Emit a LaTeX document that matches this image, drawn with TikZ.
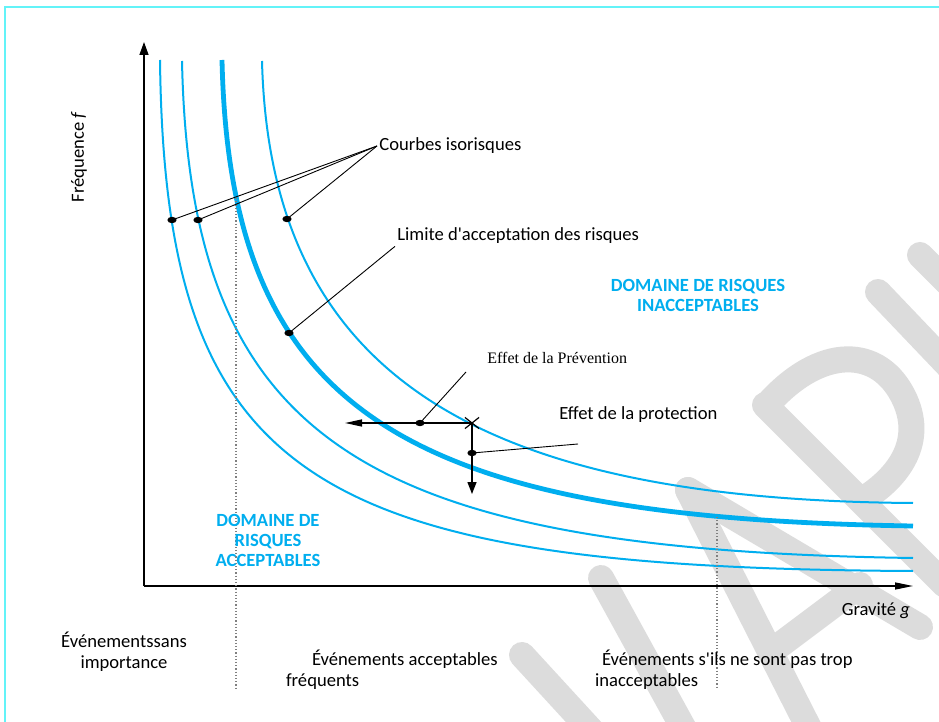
\documentclass[tikz,border=0pt]{standalone}
\usepackage{fontspec}
\setmainfont{Carlito}
\newfontfamily\timesfont{Liberation Serif}
\usetikzlibrary{arrows.meta,shapes.geometric,shapes.misc}
\definecolor{isoC}{HTML}{00AEEF}
\definecolor{frameC}{HTML}{63F3F8}
\definecolor{wmG}{HTML}{DCDCDC}

\begin{document}
\begin{tikzpicture}[x=0.5pt,y=-0.5pt,
    font=\fontsize{9.3}{10.3}\selectfont,
    iso/.style={isoC,line width=1pt},
    limite/.style={isoC,line width=2.4pt},
    axe/.style={line width=0.7pt},
    repere/.style={gray,densely dotted,line width=0.6pt},
    pt/.style={ellipse,fill=black,minimum width=4.6pt,minimum height=3.2pt,inner sep=0pt},
    lead/.style={line width=0.45pt},
    dom/.style={isoC,font=\fontsize{9.3}{10}\selectfont\bfseries,align=center},
    lbl/.style={inner sep=1pt,anchor=west},
    wm/.style={wmG,line width=13pt,line cap=round},
]
\fill[white] (0,0) rectangle (939,722);
\useasboundingbox (0,0) rectangle (939,722);

% watermark strokes in the background
\begin{scope}
\clip (0,0) rectangle (939,722);
\draw[wm] (522,655) -- (600,740);
\draw[wm] (601,578) -- (690,740);
\draw[wm] (688,490) -- (815,740);
\draw[wm] (688,490) -- (920,627);
\draw[wm] (780,645) -- (860,585);
\draw[wm] (765,405) -- (945,585);
\draw[wm] (767,405) .. controls (820,345) and (880,345) .. (905,400)
                    .. controls (925,445) and (895,480) .. (862,500);
\draw[wm] (878,292) -- (960,378);
\draw[wm] (920,255) -- (960,295);
\end{scope}

% page frame (top and left edges only)
\draw[frameC,line width=1pt] (5,722) -- (5,7) -- (939,7);

% axes
\coordinate (O) at (144,586);
\coordinate (ytip) at (144,42);
\coordinate (xtip) at (913,586);
\draw[axe,-{Triangle[length=6.5pt,width=4.5pt]}] (O) -- (ytip);
\draw[axe,-{Triangle[length=9pt,width=3.5pt]}] (O) -- (xtip);
\node[rotate=90] (lf) at (79,157) {Fréquence \textit{f}};
\node[anchor=east] (lg) at (917,611) {Gravité \textit{g}};

% isorisk curves
\draw[iso] (160,60) .. controls (165,480) and (310,568) .. (913,571);
\draw[iso] (182,61) .. controls (190,440) and (360,550) .. (913,558);
\draw[iso] (262,61) .. controls (270,370) and (470,500) .. (913,503);
% acceptance limit
\draw[limite] (222,60) .. controls (230,410) and (400,518) .. (913,526);

% dotted separators
\coordinate (r1a) at (236,198);
\coordinate (r1b) at (236,690);
\coordinate (r2a) at (717,517);
\coordinate (r2b) at (717,688);
\draw[repere] (r1a) -- (r1b);
\draw[repere] (r2a) -- (r2b);

% domains
\node[dom] (dinac) at (698,295) {DOMAINE DE RISQUES\\INACCEPTABLES};
\node[dom] (dacc) at (268,540) {DOMAINE DE\\RISQUES\\ACCEPTABLES};

% labels with leaders
\node[lbl] (liso) at (377,146) {Courbes isorisques};
\node[pt] (dA) at (172,220) {};
\node[pt] (dB) at (198,220) {};
\node[pt] (dO) at (287,219) {};
\foreach \n in {dA,dB,dO} \draw[lead] (\n.center) -- (liso.west);

\node[lbl] (llim) at (395,236) {Limite d\textquotesingle acceptation des risques};
\node[pt] (dT) at (289,333) {};
\draw[lead] (dT.center) -- (llim.south west);

% prevention and protection effects
\node[cross out,draw,line width=0.6pt,minimum width=6.5pt,minimum height=5pt,
      inner sep=0pt] (X) at (472,423) {};
\coordinate (pvtip) at (345,423);
\coordinate (prtip) at (472,494);
\draw[axe,-{Triangle[length=8.5pt,width=3.5pt]}] (X.center) -- (pvtip);
\draw[axe,-{Triangle[length=6pt,width=4.5pt]}] (X.center) -- (prtip);

\node[lbl,font=\timesfont\fontsize{8}{9}\selectfont] (lprev) at (485,358)
     {Effet de la Prévention};
\coordinate (cpv) at (466,372);
\node[pt] (dpv) at (420,423) {};
\draw[lead] (dpv.center) -- (cpv);

\node[lbl] (lprot) at (557,415) {Effet de la protection};
\coordinate (cpr) at (578,444);
\node[pt] (dpr) at (472,453) {};
\draw[lead] (dpr.center) -- (cpr);

% event classes under the axis
\node[align=center] (ev1) at (124,652) {Événementssans\\importance};
\node[align=left,anchor=west] (ev2) at (279,670)
     {\hspace*{13pt}Événements acceptables\\fréquents};
\node[align=left,anchor=west] (ev3) at (588,670)
     {\hspace*{3.5pt}Événements s\textquotesingle ils ne sont pas trop\\inacceptables};

\end{tikzpicture}
\end{document}
